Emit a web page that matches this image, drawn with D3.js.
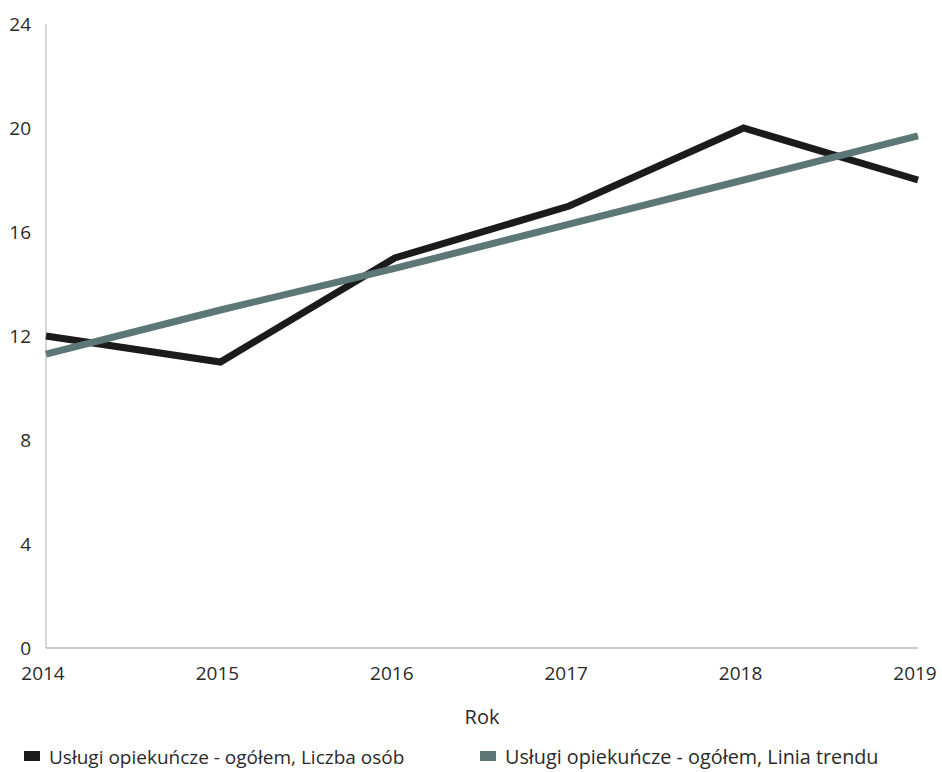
<!DOCTYPE html>
<html><head><meta charset="utf-8">
<script src="https://cdn.jsdelivr.net/npm/d3@7"></script>
<style>body{margin:0;background:#fff}svg{display:block}text{font-family:"Open Sans",sans-serif;fill:#2a2a2a}</style>
</head><body>
<svg id="c" width="942" height="772"></svg>
<script>
const years = [2014, 2015, 2016, 2017, 2018, 2019];
const liczbaOsob = [12, 11, 15, 17, 20, 18];
const liniaTrendu = [11.3, 13.0, 14.6, 16.3, 18.0, 19.7];
const yTicks = [0, 4, 8, 12, 16, 20, 24];
const seriesNames = ["Usługi opiekuńcze - ogółem, Liczba osób", "Usługi opiekuńcze - ogółem, Linia trendu"];
const colors = ["#1b1b1b", "#5d7676"];

const svg = d3.select("#c");
const x = d3.scaleLinear().domain([2014, 2019]).range([46, 918]);
const y = d3.scaleLinear().domain([0, 24]).range([648, 24]);

// axes lines
svg.append("line").attr("x1", 46).attr("x2", 46).attr("y1", y(24)).attr("y2", y(0)).attr("stroke", "#c8c8c8").attr("stroke-width", 1.5);
svg.append("line").attr("x1", 46).attr("x2", 918).attr("y1", y(0)).attr("y2", y(0)).attr("stroke", "#b8b8b8").attr("stroke-width", 1.5);

// y tick labels
svg.selectAll(".yt").data(yTicks).enter().append("text")
  .attr("x", 31).attr("y", d => y(d)).attr("dy", "0.35em").attr("text-anchor", "end")
  .attr("font-size", 19).text(d => d);

// x tick labels
svg.selectAll(".xt").data(years).enter().append("text")
  .attr("x", d => x(d) - 3).attr("y", 680).attr("text-anchor", "middle")
  .attr("font-size", 19).text(d => d);

svg.append("text").attr("x", 482).attr("y", 724).attr("text-anchor", "middle").attr("font-size", 20).text("Rok");

const line = d3.line().x((d, i) => x(years[i])).y(d => y(d));
svg.append("path").datum(liczbaOsob).attr("d", line).attr("fill", "none").attr("stroke", colors[0]).attr("stroke-width", 7).attr("stroke-linejoin", "miter");
svg.append("path").datum(liniaTrendu).attr("d", line).attr("fill", "none").attr("stroke", colors[1]).attr("stroke-width", 7);

// legend
const legX = [24, 480];
const legFont = [19, 19.8];
seriesNames.forEach((n, i) => {
  svg.append("rect").attr("x", legX[i]).attr("y", 751).attr("width", 16).attr("height", 10).attr("fill", colors[i]);
  svg.append("text").attr("x", legX[i] + 25).attr("y", 764).attr("font-size", legFont[i]).text(n);
});
</script>
</body></html>
